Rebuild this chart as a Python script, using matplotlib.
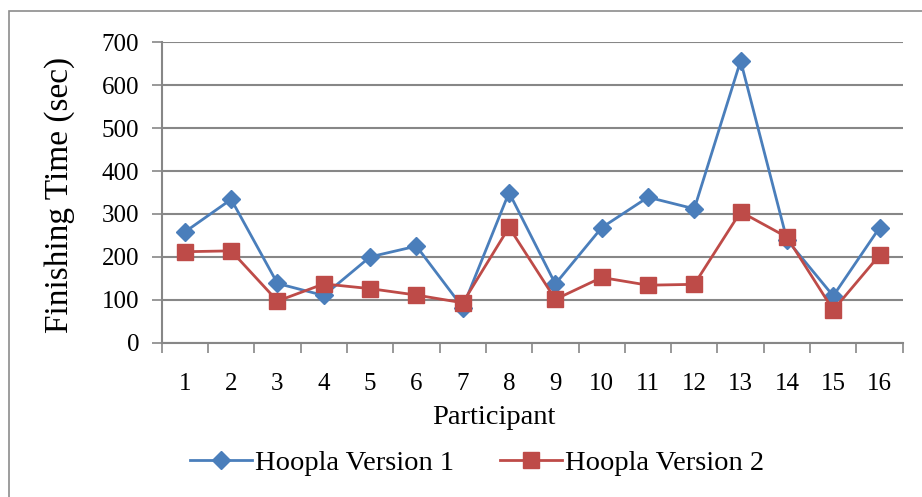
import numpy as np
import matplotlib
matplotlib.use('Agg')
import matplotlib.pyplot as plt
from matplotlib.patches import Rectangle

participants = list(range(1, 17))
version1 = [258, 334, 138, 110, 200, 225, 82, 350, 137, 268, 339, 312, 657, 240, 109, 268]
version2 = [212, 214, 97, 137, 126, 111, 93, 269, 101, 152, 134, 136, 305, 246, 76, 204]
yticks = [0, 100, 200, 300, 400, 500, 600, 700]

blue = '#4A7EBB'
red = '#BE4B48'
grid_gray = '#878787'

W, H = 922, 497
plt.rcParams['font.family'] = ['Liberation Serif', 'DejaVu Serif']

fig = plt.figure(figsize=(W / 100, H / 100), dpi=100)

# chart frame (open to the right and bottom)
fig.patches.append(Rectangle((9 / W, -0.1), 1.2, 1 - 11 / H + 0.1,
                             transform=fig.transFigure, fill=False,
                             edgecolor='#8c8c8c', linewidth=1.2))

left, right, top, bottom = 161.7, 902.7, 42.3, 342.7
ax = fig.add_axes([left / W, 1 - bottom / H, (right - left) / W, (bottom - top) / H])

x = np.array(participants)
ax.plot(x, version1, color=blue, linewidth=2, marker='D', markersize=9,
        markerfacecolor=blue, markeredgecolor=blue, label='Hoopla Version 1', zorder=3)
ax.plot(x, version2, color=red, linewidth=2, marker='s', markersize=11,
        markerfacecolor=red, markeredgecolor=red, label='Hoopla Version 2', zorder=4)

ax.set_xlim(0.5, 16.5)
ax.set_ylim(0, 700)
ax.set_yticks(yticks)
ax.set_xticks(x)
ax.set_xticks(np.arange(0.5, 17, 1), minor=True)

for s in ['top', 'right']:
    ax.spines[s].set_visible(False)
for s in ['left', 'bottom']:
    ax.spines[s].set_color(grid_gray)
    ax.spines[s].set_linewidth(1.5)

ax.yaxis.grid(True, color=grid_gray, linewidth=1.5)
ax.set_axisbelow(True)

ax.tick_params(axis='y', which='major', length=7.2, width=1.2, color=grid_gray,
               labelsize=18, pad=9)
ax.tick_params(axis='x', which='major', length=0, labelsize=18, pad=22)
ax.tick_params(axis='x', which='minor', length=7.2, width=1.2, color=grid_gray)

fig.text(494 / W, 1 - 418 / H, 'Participant', ha='center', va='center', fontsize=20.5)
fig.text(60 / W, 1 - 195 / H, 'Finishing Time (sec)', ha='center', va='center',
         rotation=90, fontsize=24)

handles, labels = ax.get_legend_handles_labels()
fig.legend(handles, labels, loc='center', bbox_to_anchor=(477 / W, 1 - 463 / H),
           ncol=2, frameon=False, fontsize=20.5, handlelength=2.2,
           handletextpad=0.1, columnspacing=1.6)

fig.savefig('out.png', dpi=100)
